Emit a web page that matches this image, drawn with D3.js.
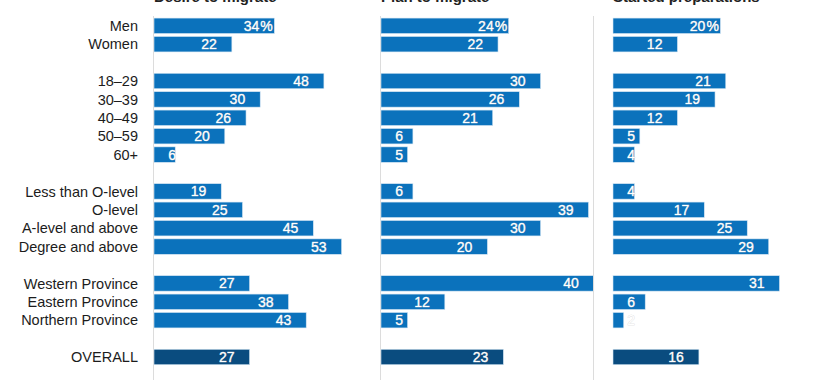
<!DOCTYPE html>
<html>
<head>
<meta charset="utf-8">
<script src="https://cdn.jsdelivr.net/npm/d3@7"></script>
<style>
  body { margin: 0; background: #fff; }
  svg { display: block; font-family: "Liberation Sans", Arial, Helvetica, sans-serif; }
</style>
</head>
<body>
<svg id="chart" width="825" height="380"></svg>
<script>
// rows, blanks are the gaps between groups
const categories = ["Men", "Women", "",
  "18\u201329", "30\u201339", "40\u201349", "50\u201359", "60+", "",
  "Less than O-level", "O-level", "A-level and above", "Degree and above", "",
  "Western Province", "Eastern Province", "Northern Province", "",
  "OVERALL"];

const titles = ["Desire to migrate", "Plan to migrate", "Started preparations"];

// values per row (null = gap row)
const desire = [34, 22, null, 48, 30, 26, 20, 6, null, 19, 25, 45, 53, null, 27, 38, 43, null, 27];
const plan = [24, 22, null, 30, 26, 21, 6, 5, null, 6, 39, 30, 20, null, 40, 12, 5, null, 23];
const started = [20, 12, null, 21, 19, 12, 5, 4, null, 4, 17, 25, 29, null, 31, 6, 2, null, 16];

const svg = d3.select("#chart");
const keys = categories.map((c, i) => i);

const y = d3.scaleBand()
  .domain(keys)
  .range([16.6, 366.2])
  .paddingInner(0.16)
  .paddingOuter(0.08);

// each panel has its own scale
const panels = [
  { title: titles[0], values: desire, x: d3.scaleLinear().domain([0, 100]).range([154, 508]), axis: 153.5 },
  { title: titles[1], values: plan, x: d3.scaleLinear().domain([0, 100]).range([381, 913]), axis: 380.5 },
  { title: titles[2], values: started, x: d3.scaleLinear().domain([0, 100]).range([613, 1150]), axis: 593.5 }
];

// category labels
svg.append("g")
  .selectAll("text")
  .data(categories)
  .join("text")
  .attr("x", 138)
  .attr("y", (d, i) => y(i) + y.bandwidth() / 2)
  .attr("dy", "0.36em")
  .attr("text-anchor", "end")
  .attr("font-size", 14.5)
  .attr("fill", "#1c1c1c")
  .text(d => d);

panels.forEach((p, pi) => {
  const g = svg.append("g");

  // vertical base line
  g.append("line")
    .attr("x1", p.axis).attr("x2", p.axis)
    .attr("y1", 16).attr("y2", 380)
    .attr("stroke", "#dcdcdc")
    .attr("stroke-width", 1);

  // titles sit mostly above the top edge, as in the original crop
  g.append("text")
    .attr("x", p.x(0))
    .attr("y", 2)
    .attr("font-size", 15)
    .attr("font-weight", "bold")
    .attr("fill", "#222")
    .text(p.title);

  const rows = p.values.map((v, i) => ({ v, i })).filter(d => d.v !== null);

  g.selectAll("rect")
    .data(rows)
    .join("rect")
    .attr("x", p.x(0))
    .attr("y", d => y(d.i))
    .attr("width", d => p.x(d.v) - p.x(0))
    .attr("height", y.bandwidth())
    .attr("fill", d => categories[d.i] === "OVERALL" ? "#0a4c7f" : "#0b72bc")
    .attr("stroke", "#d6e6f3")
    .attr("stroke-width", 0.6);

  const labels = g.selectAll("text.val")
    .data(rows)
    .join("text")
    .attr("class", "val")
    .attr("y", d => y(d.i) + y.bandwidth() / 2)
    .attr("dy", "0.36em")
    .attr("font-size", 14)
    .attr("fill", "#fff")
    .attr("stroke", "#cfcfcf")
    .attr("stroke-width", 0.5)
    .attr("paint-order", "stroke");

  labels.append("tspan")
    .attr("x", d => Math.max(p.x(d.v) - 15, p.x(0) + 22))
    .attr("text-anchor", "end")
    .text(d => d.v);

  labels.filter(d => d.i === 0)
    .append("tspan")
    .attr("x", d => p.x(d.v) - 14)
    .attr("text-anchor", "start")
    .text("%");
});
</script>
</body>
</html>
